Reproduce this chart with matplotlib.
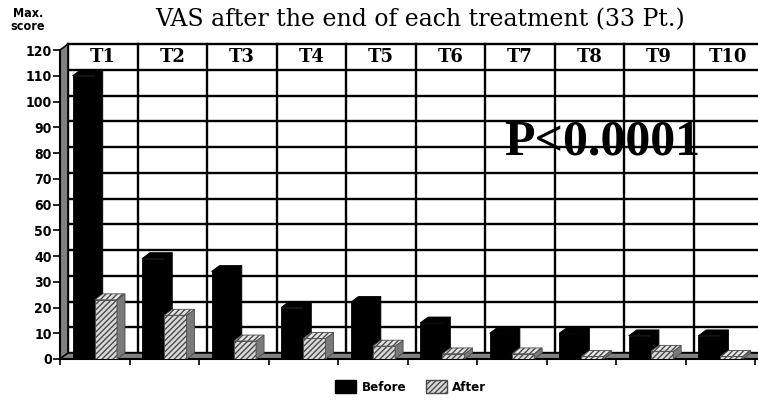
import matplotlib
matplotlib.use("Agg")
import matplotlib.pyplot as plt
from matplotlib.patches import Polygon, Patch

# data
categories = ["T1", "T2", "T3", "T4", "T5", "T6", "T7", "T8", "T9", "T10"]
before = [110, 39, 34, 20, 22, 14, 10, 10, 9, 9]
after = [23, 17, 7, 8, 5, 2, 2, 1, 3, 1]
yticks = [0, 10, 20, 30, 40, 50, 60, 70, 80, 90, 100, 110, 120]

narrow = ["DejaVu Sans"]
serif = ["DejaVu Serif"]

# depth of the fake 3D effect (data units)
dx = 0.115
dy = 2.3
bar_w = 0.32
ymax = 120

fig = plt.figure(figsize=(7.58, 4.01), dpi=100)
ax = fig.add_axes([60 / 758, 42 / 401, 698 / 758, 318 / 401])
ax.set_xlim(0, 10.04)
ax.set_ylim(0, 123.5)

# left wall and floor
ax.add_patch(Polygon([(0, 0), (dx, dy), (dx, ymax + dy), (0, ymax)],
                     closed=True, facecolor="#808080", edgecolor="black", lw=1.2, zorder=1))
ax.add_patch(Polygon([(0, 0), (10.04, 0), (10.04 + dx, dy), (dx, dy)],
                     closed=True, facecolor="#808080", edgecolor="black", lw=1.0, zorder=1))

# back wall grid
for v in yticks:
    ax.plot([dx, 10.2], [v + dy, v + dy], color="black", lw=1.7, zorder=0.5)
for k in range(len(categories) + 1):
    ax.plot([k + dx, k + dx], [dy, ymax + dy], color="black", lw=1.7, zorder=0.5)

# category labels in the top band of the back wall
for k, name in enumerate(categories):
    ax.text(k + 0.5 + dx, 115 + dy, name, ha="center", va="center",
            fontsize=13, fontweight="heavy", family=serif, zorder=2)


def draw_column(x0, value, face, side, top, hatch=None, edge="black"):
    ax.bar(x0, value, width=bar_w, align="edge", color=face, edgecolor=edge,
           hatch=hatch, linewidth=0.6, zorder=3)
    x1 = x0 + bar_w
    ax.add_patch(Polygon([(x1, 0), (x1 + dx, dy), (x1 + dx, value + dy), (x1, value)],
                         closed=True, facecolor=side, edgecolor=edge, lw=0.6, zorder=3))
    ax.add_patch(Polygon([(x0, value), (x0 + dx, value + dy), (x1 + dx, value + dy), (x1, value)],
                         closed=True, facecolor=top, edgecolor=edge, hatch=hatch, lw=0.6, zorder=3))


for k in range(len(categories)):
    draw_column(k + 0.18, before[k], "black", "black", "black")
    draw_column(k + 0.50, after[k], "#d9d9d9", "#7a7a7a", "#e6e6e6", hatch="//////", edge="#4a4a4a")

# axes styling
for s in ["top", "right"]:
    ax.spines[s].set_visible(False)
ax.spines["left"].set_bounds(0, ymax)
ax.spines["left"].set_linewidth(1.5)
ax.spines["bottom"].set_linewidth(1.5)
ax.spines["left"].set_zorder(4)
ax.set_yticks(yticks)
ax.set_yticklabels([str(v) for v in yticks], fontsize=10, fontweight="bold",
                   family=narrow, fontstretch="condensed")
ax.set_xticks(range(len(categories) + 1))
ax.set_xticklabels([])
ax.tick_params(axis="y", direction="out", length=5, width=1.2, pad=1)
ax.tick_params(axis="x", direction="out", length=4, width=1.2)

ax.text(7.8, 84, "P<0.0001", ha="center", va="center", fontsize=36,
        fontweight="bold", family=["Liberation Serif"], zorder=5)

fig.text(0.554, 0.952, "VAS after the end of each treatment (33 Pt.)",
         ha="center", va="center", fontsize=17, family=serif)
fig.text(0.037, 0.95, "Max.\nscore", ha="center", va="center", fontsize=9,
         fontweight="bold", family=narrow, fontstretch="condensed", linespacing=0.95)

handles = [Patch(facecolor="black", edgecolor="black"),
           Patch(facecolor="#d9d9d9", edgecolor="#4a4a4a", hatch="//////")]
leg = fig.legend(handles, ["Before", "After"], loc="center", bbox_to_anchor=(0.542, 0.035),
                 ncol=2, frameon=False, handlelength=1.6, handleheight=1.2,
                 columnspacing=1.5, handletextpad=0.4,
                 prop={"family": narrow, "weight": "bold", "size": 9.5, "stretch": "condensed"})

fig.savefig("out.png", dpi=100)
